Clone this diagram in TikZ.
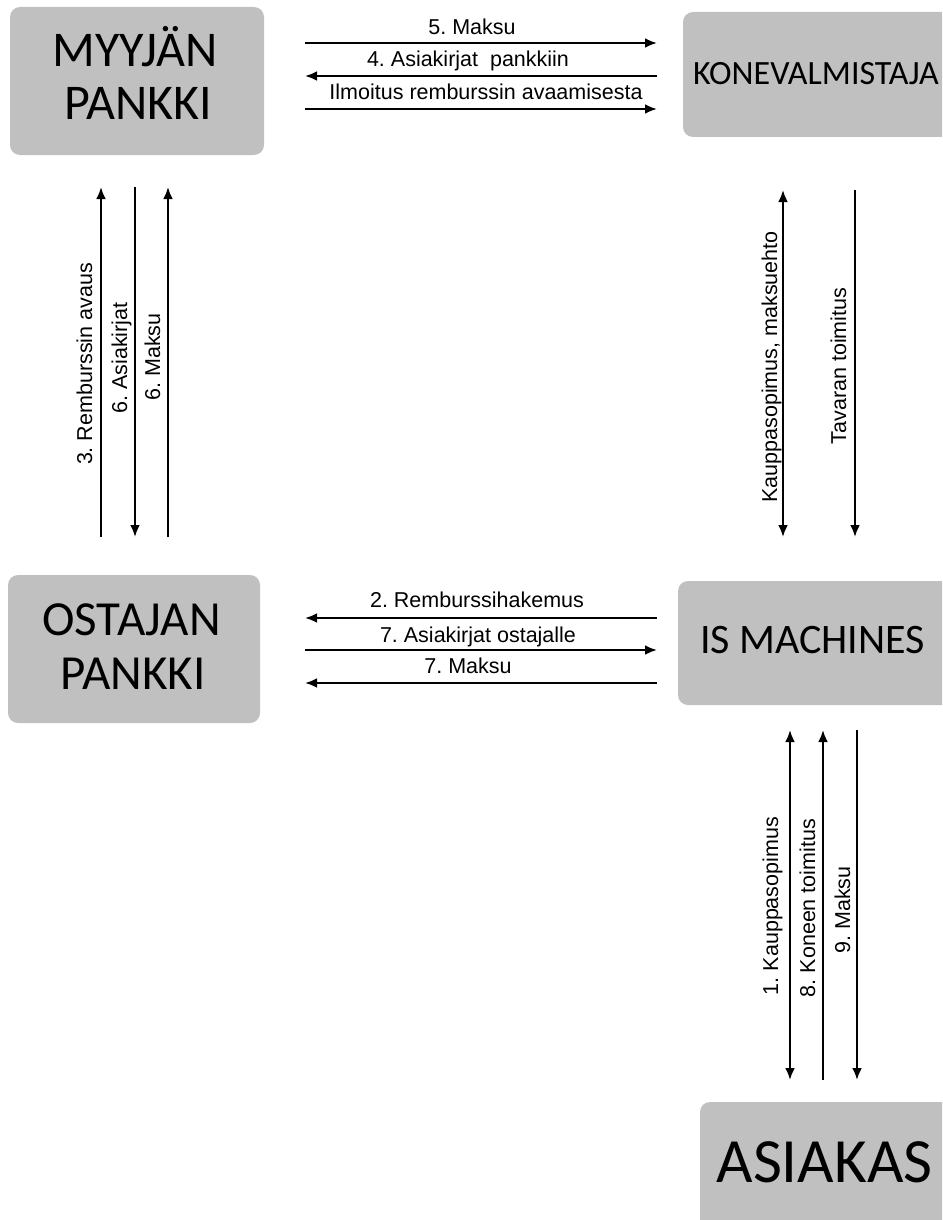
\documentclass[tikz,border=0pt]{standalone}
\usepackage{fontspec}
\usetikzlibrary{arrows.meta}
\newfontfamily\boxfont{Carlito}
\newfontfamily\labfont{Liberation Sans}
\definecolor{boxgray}{RGB}{192,192,192}
\frenchspacing
\begin{document}
\begin{tikzpicture}[x=1pt,y=-1pt,
  party/.style={fill=boxgray, draw=none, rounded corners=10pt, inner sep=0pt},
  bigtext/.style={anchor=base, inner sep=0pt, text=black},
  flow/.style={line width=2.9pt, -{Latex[length=12pt,width=10pt]}},
  both/.style={line width=2.9pt, {Latex[length=12pt,width=10pt]}-{Latex[length=12pt,width=10pt]}},
  lab/.style={anchor=base, inner sep=0pt, font=\labfont\fontsize{21.5}{24}\selectfont},
  vlab/.style={lab, rotate=90}]
\useasboundingbox (0,0) rectangle (942,1220);
\clip (0,0) rectangle (942,1220);

% parties
\node[party, minimum width=254pt, minimum height=148pt] (myy) at (137,81) {};
\node[party, minimum width=280pt, minimum height=125pt] (kone) at (823,74.5) {};
\node[party, minimum width=252pt, minimum height=148pt] (osta) at (134,649) {};
\node[party, minimum width=284pt, minimum height=124pt] (ism) at (820,643) {};
\node[party, minimum width=262pt, minimum height=140pt] (asi) at (831,1172) {};

\node[bigtext, font=\boxfont\fontsize{50}{54}\selectfont] (myy1) at (135,67) {MYYJÄN};
\node[bigtext, font=\boxfont\fontsize{50}{54}\selectfont] (myy2) at (138,120) {PANKKI};
\node[bigtext, font=\boxfont\fontsize{34}{38}\selectfont] (kone1) at (816,85) {KONEVALMISTAJA};
\node[bigtext, font=\boxfont\fontsize{49}{54}\selectfont] (osta1) at (131.5,635) {OSTAJAN};
\node[bigtext, font=\boxfont\fontsize{49}{54}\selectfont] (osta2) at (133,689) {PANKKI};
\node[bigtext, font=\boxfont\fontsize{42}{46}\selectfont] (ism1) at (812.5,653) {IS MACHINES};
\node[bigtext, font=\boxfont\fontsize{63}{68}\selectfont] (asi1) at (824.5,1182) {ASIAKAS};

% connector end points
\coordinate (t1a) at (305,43);  \coordinate (t1b) at (657,43);
\coordinate (t2a) at (305,76);  \coordinate (t2b) at (657,76);
\coordinate (t3a) at (305,109); \coordinate (t3b) at (657,109);
\coordinate (l1a) at (101,187); \coordinate (l1b) at (101,537);
\coordinate (l2a) at (135,187); \coordinate (l2b) at (135,537);
\coordinate (l3a) at (168,187); \coordinate (l3b) at (168,537);
\coordinate (r1a) at (783,190); \coordinate (r1b) at (783,537);
\coordinate (r2a) at (855,190); \coordinate (r2b) at (855,537);
\coordinate (m1a) at (305,618); \coordinate (m1b) at (657,618);
\coordinate (m2a) at (305,650); \coordinate (m2b) at (657,650);
\coordinate (m3a) at (305,683); \coordinate (m3b) at (657,683);
\coordinate (b1a) at (790,730); \coordinate (b1b) at (790,1080);
\coordinate (b2a) at (823,730); \coordinate (b2b) at (823,1080);
\coordinate (b3a) at (857,730); \coordinate (b3b) at (857,1080);

% between the seller's bank and the manufacturer
\draw[flow] (t1a) -- (t1b);
\draw[flow] (t2b) -- (t2a);
\draw[flow] (t3a) -- (t3b);
\node[lab] (t1l) at (472,35) {5. Maksu};
\node[lab] (t2l) at (468,67) {4. Asiakirjat\ \ pankkiin};
\node[lab] (t3l) at (486,100) {Ilmoitus remburssin avaamisesta};

% between the two banks
\draw[flow] (l1b) -- (l1a);
\draw[flow] (l2a) -- (l2b);
\draw[flow] (l3b) -- (l3a);
\node[vlab] (l1l) at (92,364) {3. Remburssin avaus};
\node[vlab] (l2l) at (127,358) {6. Asiakirjat};
\node[vlab] (l3l) at (160,357) {6. Maksu};

% between the manufacturer and IS Machines
\draw[both] (r1a) -- (r1b);
\draw[flow] (r2a) -- (r2b);
\node[vlab] (r1l) at (777,367) {Kauppasopimus, maksuehto};
\node[vlab] (r2l) at (846,366) {Tavaran toimitus};

% between the buyer's bank and IS Machines
\draw[flow] (m1b) -- (m1a);
\draw[flow] (m2a) -- (m2b);
\draw[flow] (m3b) -- (m3a);
\node[lab] (m1l) at (477,607) {2. Remburssihakemus};
\node[lab] (m2l) at (478,642) {7. Asiakirjat ostajalle};
\node[lab] (m3l) at (468,673) {7. Maksu};

% between IS Machines and the customer
\draw[both] (b1a) -- (b1b);
\draw[flow] (b2b) -- (b2a);
\draw[flow] (b3a) -- (b3b);
\node[vlab] (b1l) at (778,906) {1. Kauppasopimus};
\node[vlab] (b2l) at (815,908) {8. Koneen toimitus};
\node[vlab] (b3l) at (850,910) {9. Maksu};
\end{tikzpicture}
\end{document}
